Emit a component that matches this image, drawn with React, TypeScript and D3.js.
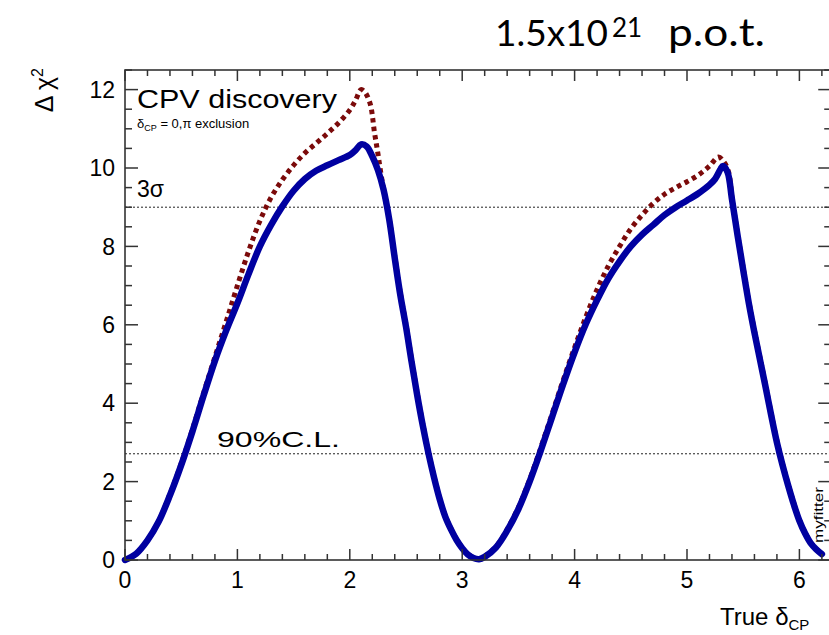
import React from "react";
import * as d3 from "d3";

// ---- data ----
const solidDelta = [0, 0.1, 0.2, 0.3, 0.4, 0.5, 0.6, 0.7, 0.8, 0.9, 1.0, 1.1, 1.2, 1.3, 1.4, 1.5, 1.6, 1.7, 1.8, 1.9, 2.0, 2.05, 2.1, 2.15, 2.2, 2.25, 2.3, 2.35, 2.4, 2.45, 2.5, 2.55, 2.6, 2.65, 2.7, 2.75, 2.8, 2.85, 2.9, 2.95, 3.0, 3.05, 3.1, 3.15, 3.2, 3.3, 3.4, 3.5, 3.6, 3.7, 3.8, 3.9, 4.0, 4.1, 4.2, 4.3, 4.4, 4.5, 4.6, 4.7, 4.8, 4.9, 5.0, 5.1, 5.2, 5.25, 5.3, 5.32, 5.36, 5.4, 5.45, 5.5, 5.55, 5.6, 5.65, 5.7, 5.75, 5.8, 5.85, 5.9, 5.95, 6.0, 6.05, 6.1, 6.15, 6.2];
const solidChi2 = [0, 0.16, 0.5, 0.98, 1.65, 2.42, 3.28, 4.2, 5.08, 5.85, 6.55, 7.3, 8.0, 8.55, 9.02, 9.42, 9.72, 9.93, 10.07, 10.2, 10.33, 10.45, 10.6, 10.55, 10.3, 9.95, 9.45, 8.7, 7.7, 6.75, 5.95, 5.05, 4.2, 3.42, 2.72, 2.1, 1.55, 1.1, 0.78, 0.51, 0.3, 0.14, 0.05, 0.02, 0.08, 0.32, 0.75, 1.3, 2.0, 2.8, 3.65, 4.5, 5.3, 6.02, 6.63, 7.18, 7.62, 8.0, 8.3, 8.55, 8.8, 9.0, 9.17, 9.35, 9.57, 9.72, 9.98, 10.05, 9.9, 9.2, 8.28, 7.4, 6.55, 5.8, 5.1, 4.4, 3.68, 3.0, 2.42, 1.9, 1.42, 1.0, 0.68, 0.43, 0.27, 0.15];

const dottedDelta = [0, 0.1, 0.2, 0.3, 0.4, 0.5, 0.6, 0.7, 0.8, 0.9, 1.0, 1.1, 1.2, 1.3, 1.4, 1.5, 1.6, 1.7, 1.8, 1.9, 2.0, 2.05, 2.1, 2.13, 2.18, 2.22, 2.25, 2.28, 2.32, 2.35, 2.4, 2.45, 2.5, 2.55, 2.6, 2.65, 2.7, 2.75, 2.8, 2.85, 2.9, 2.95, 3.0, 3.05, 3.1, 3.15, 3.2, 3.3, 3.4, 3.5, 3.6, 3.7, 3.8, 3.9, 4.0, 4.1, 4.2, 4.3, 4.4, 4.5, 4.6, 4.7, 4.8, 4.9, 5.0, 5.1, 5.2, 5.28, 5.33, 5.37, 5.4, 5.45, 5.5, 5.55, 5.6, 5.65, 5.7, 5.75, 5.8, 5.85, 5.9, 5.95, 6.0, 6.05, 6.1, 6.15, 6.2];
const dottedChi2 = [0, 0.16, 0.5, 0.99, 1.68, 2.46, 3.33, 4.27, 5.18, 6.08, 7.0, 7.88, 8.65, 9.25, 9.7, 10.07, 10.38, 10.63, 10.88, 11.15, 11.48, 11.72, 12.0, 11.95, 11.65, 10.9, 10.37, 9.8, 9.15, 8.72, 7.75, 6.8, 6.0, 5.1, 4.25, 3.46, 2.75, 2.12, 1.57, 1.12, 0.8, 0.52, 0.31, 0.15, 0.06, 0.03, 0.09, 0.34, 0.78, 1.34, 2.05, 2.87, 3.73, 4.6, 5.42, 6.2, 6.9, 7.5, 8.0, 8.45, 8.8, 9.1, 9.33, 9.5, 9.65, 9.82, 10.05, 10.28, 10.15, 9.9, 9.25, 8.32, 7.45, 6.6, 5.85, 5.15, 4.45, 3.72, 3.04, 2.45, 1.93, 1.45, 1.02, 0.7, 0.45, 0.28, 0.16];

const xMajorTicks = [0, 1, 2, 3, 4, 5, 6];
const yMajorTicks = [0, 2, 4, 6, 8, 10, 12];
const refLevels = [9, 2.71];

const W = 829;
const H = 635;
const LEFT = 125;
const BOTTOM = 560;
const TOP = 70;
const FONT = "'Liberation Sans', Arial, Helvetica, sans-serif";
const TITLE_FONT = "Lato, 'Open Sans', sans-serif";

export default function App() {
  const x = d3.scaleLinear().domain([0, 2 * Math.PI]).range([LEFT, LEFT + 2 * Math.PI * 112.4]);
  const y = d3.scaleLinear().domain([0, 12.5]).range([BOTTOM, TOP]);
  const RIGHT = x(2 * Math.PI);

  const line = d3
    .line<[number, number]>()
    .x((d) => x(d[0]))
    .y((d) => y(d[1]))
    .curve(d3.curveCatmullRom.alpha(0.5));

  const solid: [number, number][] = solidDelta.map((d, i) => [d, solidChi2[i]]);
  const dotted: [number, number][] = dottedDelta.map((d, i) => [d, dottedChi2[i]]);

  const xMinor = d3.range(0, 6.3, 0.2).filter((v) => Math.abs(v - Math.round(v)) > 1e-6);
  const yMinor = d3.range(0, 12.51, 0.5).filter((v) => Math.abs(v / 2 - Math.round(v / 2)) > 1e-6);

  const axisColor = "#333";

  return (
    <svg width={W} height={H} style={{ position: "absolute", left: 0, top: 0, background: "#fff" }}>
      {/* title */}
      <text x={495} y={46} fontFamily={TITLE_FONT} fontSize={37} fill="#000">1.5x10</text>
      <text x={612} y={37} fontFamily={TITLE_FONT} fontSize={26} fill="#000">21</text>
      <text x={668} y={46} fontFamily={TITLE_FONT} fontSize={39} fill="#000" textLength={97} lengthAdjust="spacingAndGlyphs">p.o.t.</text>

      {/* reference lines */}
      {refLevels.map((lv) => (
        <line key={lv} x1={LEFT} x2={RIGHT} y1={y(lv)} y2={y(lv)} stroke="#222" strokeWidth={1} strokeDasharray="2,2" />
      ))}

      {/* curves */}
      <path d={line(dotted) || ""} fill="none" stroke="#7b0a0a" strokeWidth={5} strokeDasharray="4.5,4" />
      <path d={line(solid) || ""} fill="none" stroke="#0000a0" strokeWidth={6.5} strokeLinecap="round" strokeLinejoin="round" />

      {/* frame */}
      <rect x={LEFT} y={TOP} width={RIGHT - LEFT} height={BOTTOM - TOP} fill="none" stroke={axisColor} strokeWidth={1.6} />

      {/* x ticks bottom & top */}
      {xMajorTicks.map((v) => (
        <g key={"xm" + v}>
          <line x1={x(v)} x2={x(v)} y1={BOTTOM} y2={BOTTOM - 11} stroke={axisColor} strokeWidth={1.5} />
          <line x1={x(v)} x2={x(v)} y1={TOP} y2={TOP + 11} stroke={axisColor} strokeWidth={1.5} />
          <text x={x(v)} y={588} textAnchor="middle" fontFamily={FONT} fontSize={23} fill="#000">{v}</text>
        </g>
      ))}
      {xMinor.map((v) => (
        <g key={"xn" + v}>
          <line x1={x(v)} x2={x(v)} y1={BOTTOM} y2={BOTTOM - 6} stroke={axisColor} strokeWidth={1.5} />
          <line x1={x(v)} x2={x(v)} y1={TOP} y2={TOP + 6} stroke={axisColor} strokeWidth={1.5} />
        </g>
      ))}

      {/* y ticks left & right */}
      {yMajorTicks.map((v) => (
        <g key={"ym" + v}>
          <line x1={LEFT} x2={LEFT + 13} y1={y(v)} y2={y(v)} stroke={axisColor} strokeWidth={1.5} />
          <line x1={RIGHT} x2={RIGHT - 13} y1={y(v)} y2={y(v)} stroke={axisColor} strokeWidth={1.5} />
          <text x={115} y={y(v)} dy="0.36em" textAnchor="end" fontFamily={FONT} fontSize={23} fill="#000">{v}</text>
        </g>
      ))}
      {yMinor.map((v) => (
        <g key={"yn" + v}>
          <line x1={LEFT} x2={LEFT + 7} y1={y(v)} y2={y(v)} stroke={axisColor} strokeWidth={1.5} />
          <line x1={RIGHT} x2={RIGHT - 7} y1={y(v)} y2={y(v)} stroke={axisColor} strokeWidth={1.5} />
        </g>
      ))}

      {/* annotations */}
      <text x={137} y={108} fontFamily={FONT} fontSize={25} fill="#000" textLength={200} lengthAdjust="spacingAndGlyphs">CPV discovery</text>
      <text x={137} y={128} fontFamily={FONT} fontSize={13} fill="#000">
        δ<tspan fontSize={9} dy={3}>CP</tspan><tspan dy={-3}> = 0,π exclusion</tspan>
      </text>
      <text x={137} y={197} fontFamily={FONT} fontSize={23} fill="#000">3σ</text>
      <text x={217} y={447} fontFamily={FONT} fontSize={22} fill="#000" textLength={123} lengthAdjust="spacingAndGlyphs">90%C.L.</text>

      {/* axis titles */}
      <text transform="translate(53,68) rotate(-90)" textAnchor="end" fontFamily={FONT} fontSize={25} fill="#000">
        Δ χ<tspan fontSize={16} dy={-10}>2</tspan>
      </text>
      <text x={720} y={625} fontFamily={FONT} fontSize={24} fill="#000">
        True δ<tspan fontSize={15} dy={5}>CP</tspan>
      </text>

      <text transform="translate(823,543) rotate(-90)" fontFamily={FONT} fontSize={12} fill="#000" textLength={56} lengthAdjust="spacingAndGlyphs">myfitter</text>
    </svg>
  );
}
